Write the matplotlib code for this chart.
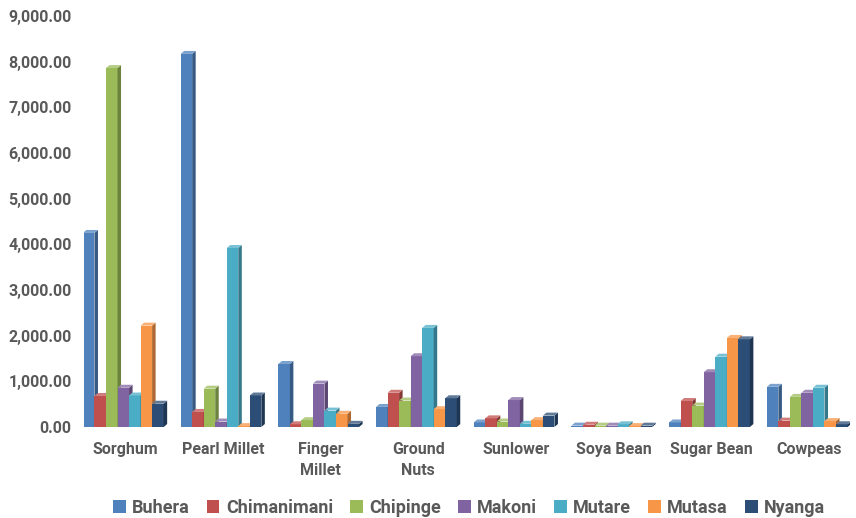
import numpy as np
import matplotlib
matplotlib.use("Agg")
import matplotlib.pyplot as plt
from matplotlib.patches import Polygon, Patch
from matplotlib.colors import to_rgb

plt.rcParams['font.family'] = ['Liberation Sans Narrow', 'DejaVu Sans Condensed', 'Roboto', 'DejaVu Sans']

crops = ["Sorghum", "Pearl Millet", "Finger\nMillet", "Ground\nNuts",
         "Sunlower", "Soya Bean", "Sugar Bean", "Cowpeas"]
districts = ["Buhera", "Chimanimani", "Chipinge", "Makoni", "Mutare", "Mutasa", "Nyanga"]

buhera      = [4250, 8170, 1380, 440,  100, 30, 100, 880]
chimanimani = [680,  330,  60,   750,  190, 50, 570, 140]
chipinge    = [7860, 840,  150,  580,  120, 30, 470, 660]
makoni      = [860,  120,  950,  1550, 590, 30, 1200, 750]
mutare      = [690,  3920, 360,  2170, 70,  60, 1540, 860]
mutasa      = [2220, 20,   290,  390,  150, 20, 1950, 130]
nyanga      = [510,  690,  70,   630,  250, 30, 1920, 60]

series = [buhera, chimanimani, chipinge, makoni, mutare, mutasa, nyanga]
colors = ["#4F81BD", "#C0504D", "#9BBB59", "#8064A2", "#4BACC6", "#F79646", "#2C4D75"]

grey = "#595959"

fig = plt.figure(figsize=[8.56, 5.18], dpi=100)
ax = fig.add_axes([84/856, 91/518, 766/856, 411/518])

x = np.arange(len(crops))
w = 0.118
dx = 0.036   # depth of the bars, horizontal
dy = 65      # depth of the bars, vertical (data units)

def shade(c, f):
    r, g, b = to_rgb(c)
    return (r*f, g*f, b*f)

def tint(c, f):
    r, g, b = to_rgb(c)
    return (r + (1-r)*f, g + (1-g)*f, b + (1-b)*f)

for i, (vals, col) in enumerate(zip(series, colors)):
    xs = x - 3.5*w - dx/2 + i*w
    ax.bar(xs, vals, width=w, align='edge', color=col, edgecolor='none', zorder=3+i)
    for x0, h in zip(xs, vals):
        side = [(x0+w, 0), (x0+w+dx, dy), (x0+w+dx, h+dy), (x0+w, h)]
        top = [(x0, h), (x0+dx, h+dy), (x0+w+dx, h+dy), (x0+w, h)]
        ax.add_patch(Polygon(side, closed=True, facecolor=shade(col, 0.7), edgecolor='none', zorder=3+i))
        ax.add_patch(Polygon(top, closed=True, facecolor=tint(col, 0.25), edgecolor='none', zorder=3+i))

ax.set_xlim(-0.42, 7.42)
ax.set_ylim(0, 9000)
ax.set_yticks(np.arange(0, 9001, 1000))
ax.set_yticklabels([f"{v:,.2f}" for v in np.arange(0, 9001, 1000)])
ax.set_xticks(x)
ax.set_xticklabels(crops, linespacing=1.5)

for s in ax.spines.values():
    s.set_visible(False)
ax.tick_params(axis='both', length=0, colors=grey)
ax.tick_params(axis='y', pad=9, labelsize=11.5)
ax.tick_params(axis='x', pad=11, labelsize=11.5)
for lbl in ax.get_xticklabels() + ax.get_yticklabels():
    lbl.set_fontweight('bold')

handles = [Patch(facecolor=c, edgecolor='none') for c in colors]
leg = fig.legend(handles, districts, loc='center', bbox_to_anchor=(0.548, 1 - 508/518),
                 ncol=7, frameon=False, handlelength=0.7, handleheight=0.7,
                 handletextpad=0.35, columnspacing=0.95,
                 prop={'weight': 'bold', 'size': 13})
for t in leg.get_texts():
    t.set_color(grey)

fig.savefig("out.png", dpi=100)
